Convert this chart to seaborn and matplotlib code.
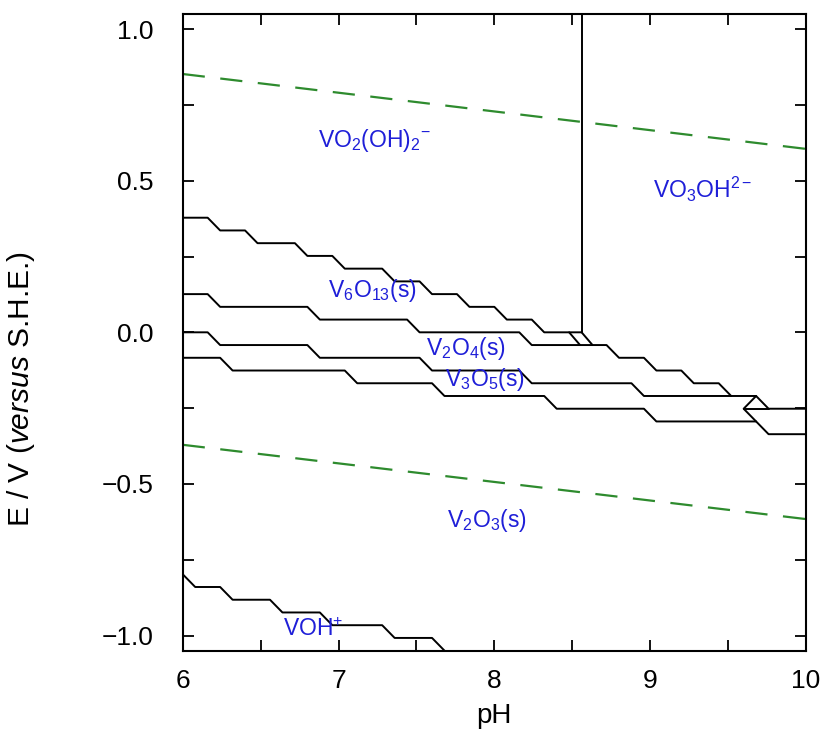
import numpy as np
import pandas as pd
import matplotlib
matplotlib.use('Agg')
import matplotlib.pyplot as plt
import seaborn as sns
from matplotlib.ticker import MultipleLocator

# ---------------- data ----------------
# boundary A: VO2(OH)2- / V6O13(s)
lineA_pH = [6.00, 6.16, 6.24, 6.40, 6.48, 6.72, 6.80, 6.96, 7.04, 7.28, 7.36, 7.52,
            7.60, 7.76, 7.84, 8.00, 8.08, 8.24, 8.32, 8.56]
lineA_E = [0.378, 0.378, 0.336, 0.336, 0.294, 0.294, 0.252, 0.252, 0.210, 0.210,
           0.168, 0.168, 0.126, 0.126, 0.084, 0.084, 0.042, 0.042, 0.000, 0.000]
# vertical boundary VO2(OH)2- / VO3OH2-
vert_pH = [8.56, 8.56]
vert_E = [1.05, 0.000]
# small diagonals at the junction
junc1_pH = [8.48, 8.55]
junc1_E = [0.000, -0.042]
junc2_pH = [8.56, 8.63]
junc2_E = [0.000, -0.042]
# boundary B: V6O13(s) / V2O4(s)
lineB_pH = [6.00, 6.16, 6.24, 6.80, 6.88, 7.44, 7.52, 8.16, 8.24, 8.72, 8.80, 8.96,
            9.04, 9.20, 9.28, 9.44, 9.52]
lineB_E = [0.126, 0.126, 0.084, 0.084, 0.042, 0.042, 0.000, 0.000, -0.042, -0.042,
           -0.084, -0.084, -0.126, -0.126, -0.168, -0.168, -0.210]
# boundary C: V2O4(s) / V3O5(s)
lineC_pH = [6.00, 6.16, 6.24, 6.80, 6.88, 7.52, 7.60, 8.16, 8.24, 8.88, 8.96, 9.68,
            9.76, 10.00]
lineC_E = [0.000, 0.000, -0.042, -0.042, -0.084, -0.084, -0.126, -0.126, -0.168,
           -0.168, -0.210, -0.210, -0.252, -0.252]
# boundary D: V3O5(s) / V2O3(s)
lineD_pH = [6.00, 6.24, 6.32, 7.04, 7.12, 7.60, 7.68, 8.32, 8.40, 8.96, 9.04, 9.68]
lineD_E = [-0.084, -0.084, -0.126, -0.126, -0.168, -0.168, -0.210, -0.210, -0.252,
           -0.252, -0.294, -0.294]
# right-hand corner pieces
lineE_pH = [9.68, 9.60, 9.76, 10.00]
lineE_E = [-0.210, -0.252, -0.336, -0.336]
lineF_pH = [9.60, 9.76]
lineF_E = [-0.252, -0.252]
# boundary V2O3(s) / VOH+
lineV_pH = [6.00, 6.08, 6.24, 6.32, 6.56, 6.64, 6.88, 6.96, 7.28, 7.36, 7.60, 7.68]
lineV_E = [-0.798, -0.840, -0.840, -0.882, -0.882, -0.924, -0.924, -0.966, -0.966,
           -1.008, -1.008, -1.050]
# water stability lines
o2_pH = [6.0, 10.0]
o2_E = [0.852, 0.605]
h2_pH = [6.0, 10.0]
h2_E = [-0.371, -0.616]

species = ['VO$_2$(OH)$_2$$^{-}$', 'VO$_3$OH$^{2-}$', 'V$_6$O$_{13}$(s)',
           'V$_2$O$_4$(s)', 'V$_3$O$_5$(s)', 'V$_2$O$_3$(s)', 'VOH$^{+}$']
species_pH = [7.23, 9.34, 7.22, 7.82, 7.94, 7.95, 6.84]
species_E = [0.611, 0.443, 0.118, -0.074, -0.178, -0.641, -1.000]

# ---------------- build tables ----------------
segments = [(lineA_pH, lineA_E), (vert_pH, vert_E), (junc1_pH, junc1_E),
            (junc2_pH, junc2_E), (lineB_pH, lineB_E), (lineC_pH, lineC_E),
            (lineD_pH, lineD_E), (lineE_pH, lineE_E), (lineF_pH, lineF_E),
            (lineV_pH, lineV_E)]
rows = []
for i, (xs, ys) in enumerate(segments):
    for j, (x, y) in enumerate(zip(xs, ys)):
        rows.append({'pH': x, 'E': y, 'seg': i, 'order': j})
bdf = pd.DataFrame(rows)

wrows = []
for i, (xs, ys) in enumerate([(o2_pH, o2_E), (h2_pH, h2_E)]):
    for x, y in zip(xs, ys):
        wrows.append({'pH': x, 'E': y, 'seg': i})
wdf = pd.DataFrame(wrows)

# ---------------- style ----------------
sns.set_theme(style='ticks')
plt.rcParams['font.family'] = ['Liberation Sans', 'DejaVu Sans']
plt.rcParams['mathtext.fontset'] = 'custom'
plt.rcParams['mathtext.rm'] = 'Liberation Sans'
plt.rcParams['mathtext.it'] = 'Liberation Sans:italic'
plt.rcParams['mathtext.bf'] = 'Liberation Sans:bold'
plt.rcParams['mathtext.sf'] = 'Liberation Sans'

fig = plt.figure(figsize=(8.28, 7.51), dpi=100)
fig.patch.set_facecolor('white')
ax = fig.add_axes([0.2207, 0.1336, 0.7527, 0.8478])
ax.set_facecolor('white')

green = '#2e8b2e'
sns.lineplot(data=wdf, x='pH', y='E', units='seg', estimator=None, sort=False,
             color=green, lw=1.6, linestyle=(0, (10.0, 7.0)), ax=ax, legend=False)
sns.lineplot(data=bdf, x='pH', y='E', units='seg', estimator=None, sort=False,
             color='black', lw=1.4, ax=ax, legend=False)

blue = '#1f1fd8'
for lab, x, y in zip(species, species_pH, species_E):
    ax.text(x, y, lab, color=blue, fontsize=16.5, ha='center', va='baseline')

ax.set_xlim(6, 10)
ax.set_ylim(-1.05, 1.05)
ax.xaxis.set_major_locator(MultipleLocator(1))
ax.xaxis.set_minor_locator(MultipleLocator(0.5))
ax.yaxis.set_major_locator(MultipleLocator(0.5))
ax.yaxis.set_minor_locator(MultipleLocator(0.25))
ax.tick_params(which='both', direction='in', top=True, right=True, length=8,
               width=1.3, color='black', labelsize=19, labelcolor='black')
ax.tick_params(axis='y', which='both', pad=21)
ax.tick_params(axis='x', which='both', pad=13)
for sp in ax.spines.values():
    sp.set_color('black')
    sp.set_linewidth(1.5)

ax.set_xlabel('pH', fontsize=20, color='black')
ax.set_ylabel('E / V ($\\mathit{versus}$ S.H.E.)', fontsize=21.5, color='black')
ax.xaxis.set_label_coords(0.5, -0.082)
ax.yaxis.set_label_coords(-0.234, 0.41)

fig.savefig('out.png', dpi=100, facecolor='white')
